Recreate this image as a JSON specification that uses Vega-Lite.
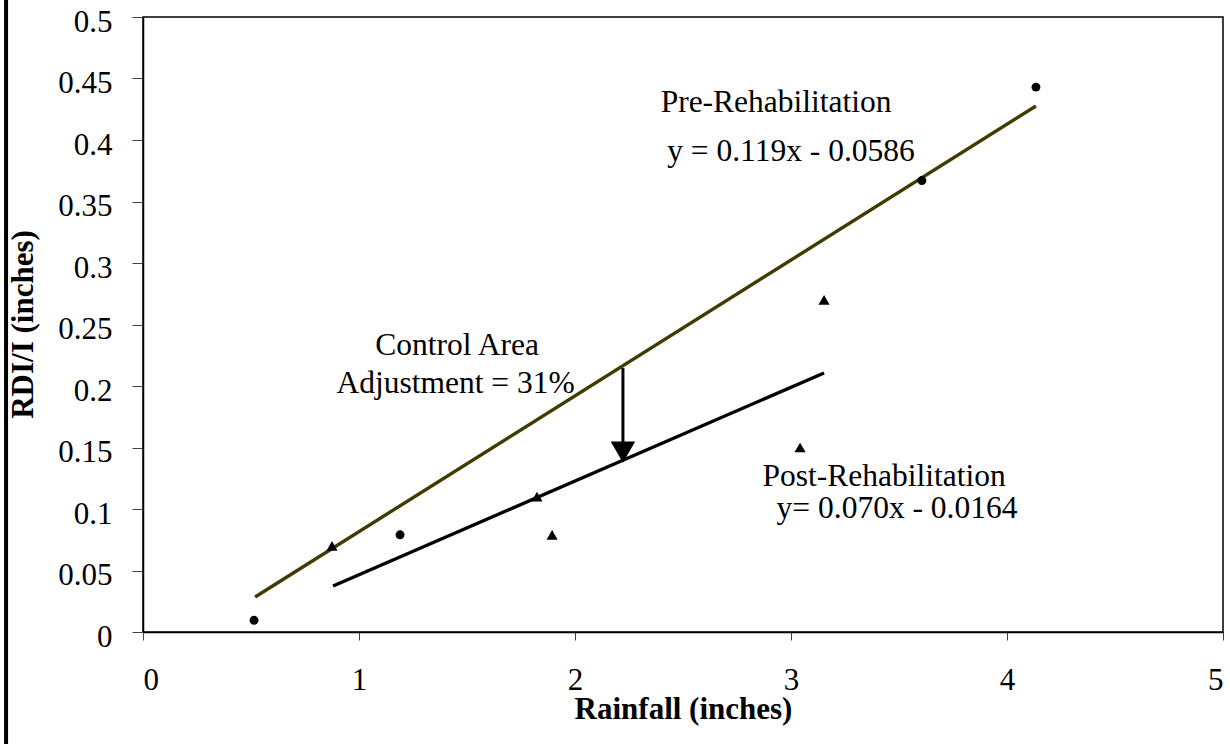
{
  "$schema": "https://vega.github.io/schema/vega-lite/v6.json",
  "width": 1080,
  "height": 615,
  "autosize": "none",
  "padding": {"left": 143, "top": 17, "right": 7, "bottom": 112},
  "background": "white",
  "config": {
    "view": {"stroke": "black", "strokeWidth": 1.5},
    "font": "Liberation Serif"
  },
  "datasets": {
    "points": [
      {"rain": 0.514, "rdi": 0.0095, "period": "Pre-Rehabilitation"},
      {"rain": 1.19, "rdi": 0.079, "period": "Pre-Rehabilitation"},
      {"rain": 3.606, "rdi": 0.367, "period": "Pre-Rehabilitation"},
      {"rain": 4.134, "rdi": 0.443, "period": "Pre-Rehabilitation"},
      {"rain": 0.875, "rdi": 0.07, "period": "Post-Rehabilitation"},
      {"rain": 1.824, "rdi": 0.11, "period": "Post-Rehabilitation"},
      {"rain": 1.894, "rdi": 0.079, "period": "Post-Rehabilitation"},
      {"rain": 3.042, "rdi": 0.15, "period": "Post-Rehabilitation"},
      {"rain": 3.153, "rdi": 0.27, "period": "Post-Rehabilitation"}
    ],
    "trends": [
      {"rain": 0.519, "rdi": 0.0285, "period": "Pre-Rehabilitation"},
      {"rain": 4.134, "rdi": 0.4276, "period": "Pre-Rehabilitation"},
      {"rain": 0.88, "rdi": 0.0374, "period": "Post-Rehabilitation"},
      {"rain": 3.153, "rdi": 0.2106, "period": "Post-Rehabilitation"}
    ],
    "labels": [
      {"rain": 2.931, "rdi": 0.4228, "text": "Pre-Rehabilitation"},
      {"rain": 3.0, "rdi": 0.3829, "text": "y = 0.119x - 0.0586"},
      {"rain": 1.454, "rdi": 0.2252, "text": "Control Area"},
      {"rain": 1.447, "rdi": 0.1943, "text": "Adjustment = 31%"},
      {"rain": 3.431, "rdi": 0.1187, "text": "Post-Rehabilitation"},
      {"rain": 3.491, "rdi": 0.0927, "text": "y= 0.070x - 0.0164"}
    ],
    "arrow": [
      {"rain": 2.222, "top": 0.2146, "bottom": 0.152, "head": 0.1463}
    ],
    "frame": [
      {"edge": -0.634, "top": 0.5138, "bottom": -0.0911}
    ]
  },
  "layer": [
    {
      "data": {"name": "trends"},
      "mark": {"type": "line", "strokeWidth": 3.4, "clip": false},
      "encoding": {
        "x": {
          "field": "rain", "type": "quantitative",
          "scale": {"domain": [0, 5], "nice": false, "zero": false},
          "axis": {
            "values": [0, 1, 2, 3, 4, 5],
            "format": "d",
            "grid": false,
            "domainColor": "black",
            "domainWidth": 1.5,
            "tickColor": "#444",
            "tickWidth": 1,
            "tickSize": 8,
            "labelFont": "Liberation Serif",
            "labelFontSize": 31,
            "labelColor": "black",
            "labelPadding": 25,
            "title": "Rainfall (inches)",
            "titleFont": "Liberation Serif",
            "titleFontSize": 31,
            "titleFontWeight": "bold",
            "titleColor": "black",
            "titleBaseline": "alphabetic",
            "titleY": 86,
            "titleX": 540
          }
        },
        "y": {
          "field": "rdi", "type": "quantitative",
          "scale": {"domain": [0, 0.5], "nice": false, "zero": false},
          "axis": {
            "values": [0, 0.05, 0.1, 0.15, 0.2, 0.25, 0.3, 0.35, 0.4, 0.45, 0.5],
            "format": "~g",
            "grid": false,
            "domainColor": "black",
            "domainWidth": 1.5,
            "tickColor": "#444",
            "tickWidth": 1,
            "tickSize": 11,
            "labelFont": "Liberation Serif",
            "labelFontSize": 31,
            "labelColor": "black",
            "labelPadding": 20,
            "labelOffset": 5,
            "title": "RDI/I (inches)",
            "titleFont": "Liberation Serif",
            "titleFontSize": 31,
            "titleFontWeight": "bold",
            "titleColor": "black",
            "titleBaseline": "alphabetic",
            "titleX": -111,
            "titleY": 307
          }
        },
        "color": {
          "field": "period", "type": "nominal",
          "scale": {"domain": ["Pre-Rehabilitation", "Post-Rehabilitation"], "range": ["#403c00", "black"]},
          "legend": null
        }
      }
    },
    {
      "data": {"name": "points"},
      "mark": {"type": "point", "filled": true, "opacity": 1, "color": "black"},
      "encoding": {
        "x": {"field": "rain", "type": "quantitative"},
        "y": {"field": "rdi", "type": "quantitative"},
        "shape": {
          "field": "period", "type": "nominal",
          "scale": {"domain": ["Pre-Rehabilitation", "Post-Rehabilitation"], "range": ["circle", "triangle-up"]},
          "legend": null
        },
        "size": {
          "field": "period", "type": "nominal",
          "scale": {"domain": ["Pre-Rehabilitation", "Post-Rehabilitation"], "range": [80, 125]},
          "legend": null
        }
      }
    },
    {
      "data": {"name": "arrow"},
      "mark": {"type": "rule", "color": "black", "strokeWidth": 3},
      "encoding": {
        "x": {"field": "rain", "type": "quantitative"},
        "y": {"field": "top", "type": "quantitative"},
        "y2": {"field": "bottom"}
      }
    },
    {
      "data": {"name": "arrow"},
      "mark": {"type": "point", "shape": "triangle-down", "filled": true, "opacity": 1, "color": "black", "size": 600},
      "encoding": {
        "x": {"field": "rain", "type": "quantitative"},
        "y": {"field": "head", "type": "quantitative"}
      }
    },
    {
      "data": {"name": "labels"},
      "mark": {"type": "text", "font": "Liberation Serif", "fontSize": 31.5, "color": "black", "align": "center", "baseline": "alphabetic"},
      "encoding": {
        "x": {"field": "rain", "type": "quantitative"},
        "y": {"field": "rdi", "type": "quantitative"},
        "text": {"field": "text", "type": "nominal"}
      }
    },
    {
      "data": {"name": "frame"},
      "mark": {"type": "rule", "color": "black", "strokeWidth": 4, "clip": false},
      "encoding": {
        "x": {"field": "edge", "type": "quantitative"},
        "y": {"field": "top", "type": "quantitative"},
        "y2": {"field": "bottom"}
      }
    }
  ]
}
